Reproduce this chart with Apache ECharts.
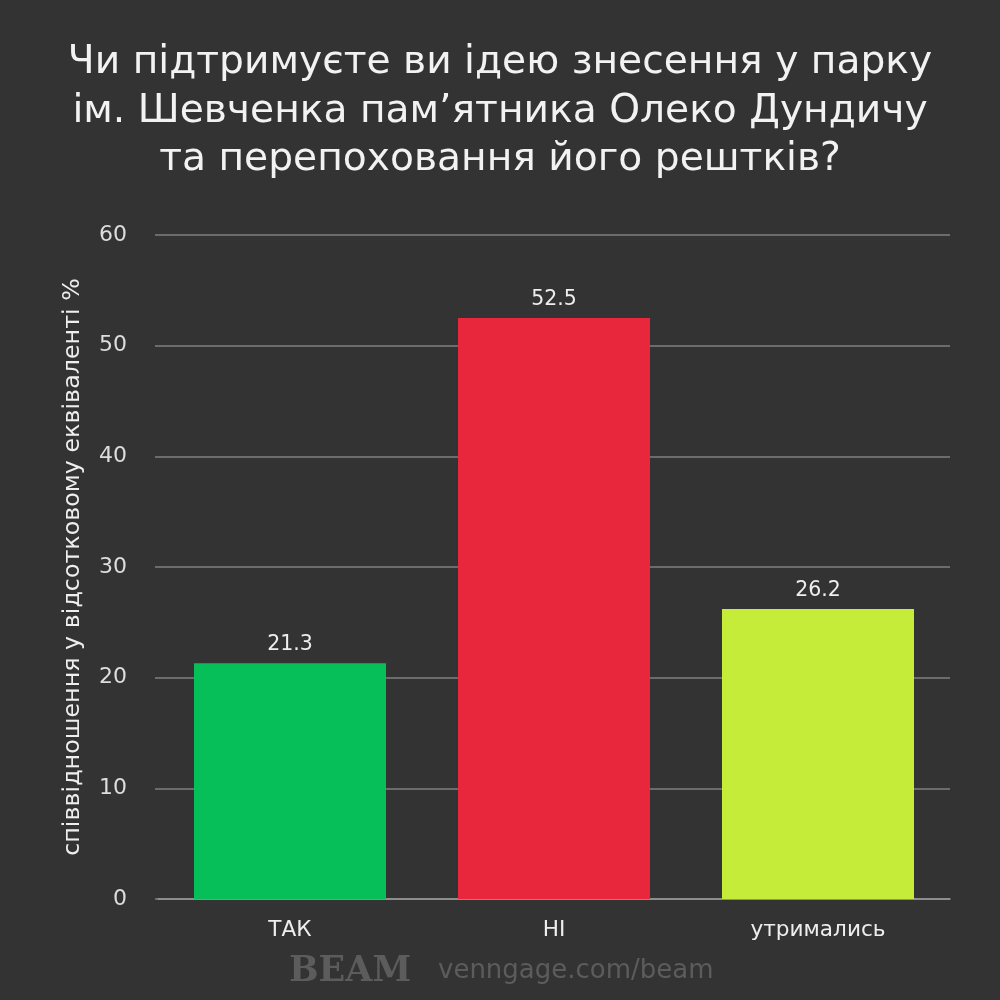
<!DOCTYPE html>
<html><head><meta charset="utf-8">
<style>html,body{margin:0;padding:0;background:#333333}#c{width:1000px;height:1000px}</style>
<script src="https://cdn.jsdelivr.net/npm/echarts@6/dist/echarts.min.js"></script></head>
<body><div id="c"></div>
<script>
const categories = ["ТАК", "НІ", "утримались"];
const values = [21.3, 52.5, 26.2];
const barColors = ["#06bf58", "#e8263c", "#c6ec3a"];
const titleLines = ["Чи підтримуєте ви ідею знесення у парку", "ім. Шевченка пам’ятника Олеко Дундичу", "та перепоховання його рештків?"];
const yAxisName = "співвідношення у відсотковому еквіваленті %";
const font = "DejaVu Sans";
const chart = echarts.init(document.getElementById('c'), null, {renderer:'canvas'});
chart.setOption({
  backgroundColor:'#333333',
  animation:false,
  title:{text:titleLines.join("\n"),left:495,top:34,textAlign:'center',
    textStyle:{color:'#f2f2f2',fontFamily:font,fontWeight:'normal',fontSize:39.2,lineHeight:48.5}},
  grid:{left:158,right:50,top:235,bottom:101,containLabel:false},
  xAxis:{type:'category',data:categories,
    axisTick:{show:false},
    axisLine:{lineStyle:{color:'#999999',width:1.5}},
    axisLabel:{color:'#eeeeee',fontFamily:font,fontSize:21.6,margin:20}},
  yAxis:{type:'value',min:0,max:60,interval:10,
    name:yAxisName,nameLocation:'middle',nameGap:73,nameRotate:90,
    nameTextStyle:{color:'#eeeeee',fontFamily:font,fontSize:23.8},
    axisLine:{show:false},
    axisTick:{show:true,length:3,lineStyle:{color:'#808080',width:1.5}},
    splitLine:{lineStyle:{color:'#808080',width:1.5}},
    axisLabel:{color:'#dddddd',fontFamily:font,fontSize:22,margin:31,padding:[3,0,0,0]}},
  series:[{type:'bar',barWidth:192,
    data:values.map((v,i)=>({value:v,itemStyle:{color:barColors[i]}})),
    label:{show:true,position:'top',distance:8,color:'#eeeeee',fontFamily:font,fontSize:20.5,
      formatter:p=>p.value.toFixed(1)}}],
  graphic:[
    {type:'text',left:289,top:954,style:{text:'BEAM',fill:'#5c5c5c',font:'bold 35px "DejaVu Serif"'}},
    {type:'text',left:438,top:958,style:{text:'venngage.com/beam',fill:'#5c5c5c',font:'26px "DejaVu Sans"'}}
  ]
});
</script></body></html>
